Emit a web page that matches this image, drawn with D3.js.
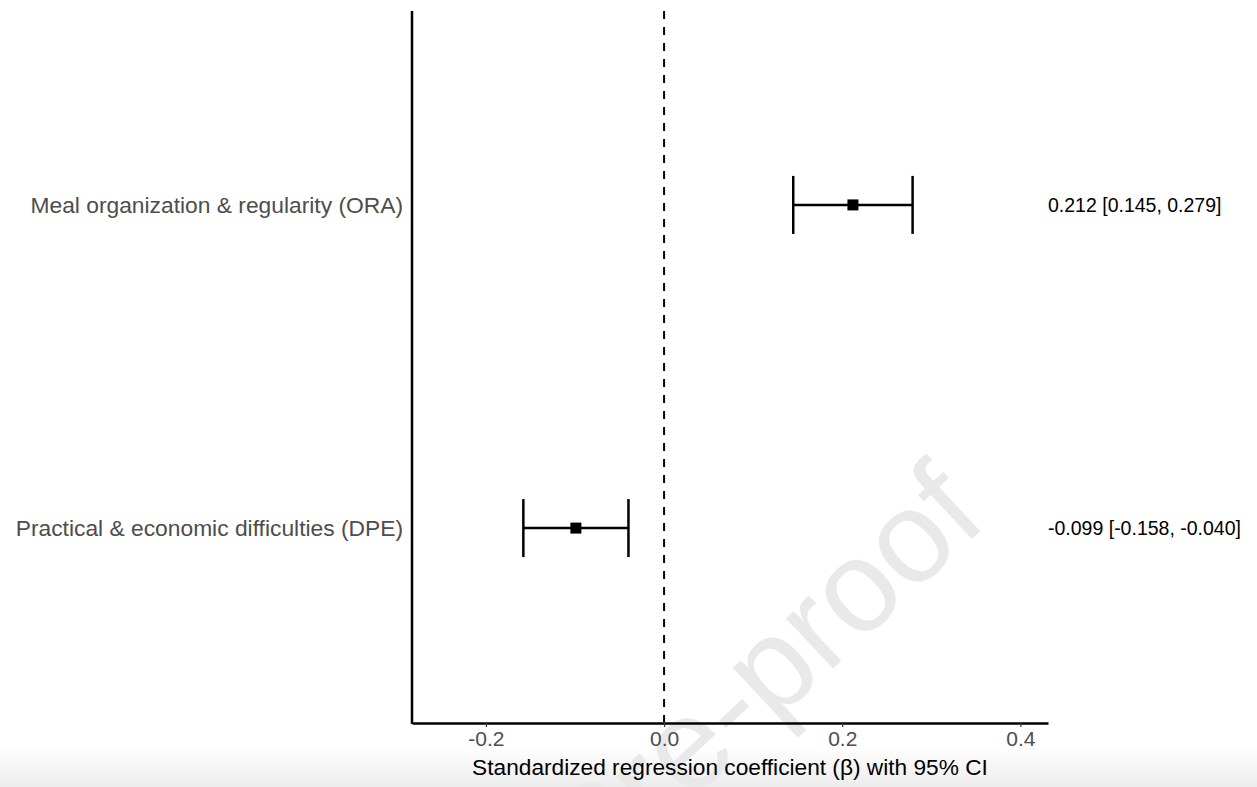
<!DOCTYPE html>
<html>
<head>
<meta charset="utf-8">
<script src="https://cdn.jsdelivr.net/npm/d3@7"></script>
<style>
  body { margin: 0; background: #fff; }
  svg { display: block; font-family: "Liberation Sans", Arial, sans-serif; }
</style>
</head>
<body>
<div id="root"></div>
<script>
// Chart size
const width = 1257;
const height = 787;

// Data
const labels = ["Meal organization & regularity (ORA)", "Practical & economic difficulties (DPE)"];
const estimates = [0.212, -0.099];
const lower = [0.145, -0.158];
const upper = [0.279, -0.040];
const ciText = ["0.212 [0.145, 0.279]", "-0.099 [-0.158, -0.040]"];
const xTicks = [-0.2, 0.0, 0.2, 0.4];
const xTickLabels = ["-0.2", "0.0", "0.2", "0.4"];

const rows = labels.map((d, i) => ({
  label: d,
  est: estimates[i],
  lo: lower[i],
  hi: upper[i],
  text: ciText[i]
}));

const svg = d3
  .select("#root")
  .append("svg")
  .attr("width", width)
  .attr("height", height);

// soft grey fade at the bottom
const grad = svg.append("defs")
  .append("linearGradient")
  .attr("id", "fade")
  .attr("x1", 0).attr("y1", 0)
  .attr("x2", 0).attr("y2", 1);
grad.append("stop").attr("offset", "0%").attr("stop-color", "#ffffff");
grad.append("stop").attr("offset", "100%").attr("stop-color", "#ececec");

svg.append("rect")
  .attr("x", 0)
  .attr("y", 748)
  .attr("width", width)
  .attr("height", height - 748)
  .attr("fill", "url(#fade)");

// watermark
svg.append("text")
  .attr("transform", "translate(990,522) rotate(-43)")
  .attr("text-anchor", "end")
  .attr("font-size", 130)
  .attr("fill", "#e9e9e9")
  .text("Journal Pre-proof");

// Scales
const xScale = d3.scaleLinear()
  .domain([-0.283, 0.431])
  .range([412, 1048]);

const yScale = d3.scalePoint()
  .domain(labels)
  .range([11, 722])
  .padding(0.6);

// Reference line at zero
svg.append("line")
  .attr("x1", xScale(0))
  .attr("x2", xScale(0))
  .attr("y1", 11)
  .attr("y2", 722)
  .attr("stroke", "#000")
  .attr("stroke-width", 2)
  .attr("stroke-dasharray", "8,8");

// Axes
const xAxis = d3.axisBottom(xScale)
  .tickValues(xTicks)
  .tickFormat((d, i) => xTickLabels[i])
  .tickSize(4)
  .tickSizeOuter(0);

const gx = svg.append("g")
  .attr("class", "x-axis")
  .attr("transform", "translate(0,723)")
  .call(xAxis);
gx.select(".domain").attr("stroke", "#000").attr("stroke-width", 2.5);
gx.selectAll(".tick line").attr("stroke", "#333").attr("stroke-width", 1.2);
gx.selectAll(".tick text")
  .attr("y", 8)
  .attr("font-size", 21)
  .attr("fill", "#4d4d4d")
  .attr("font-family", "Liberation Sans, Arial, sans-serif");

const yAxis = d3.axisLeft(yScale)
  .tickSize(0)
  .tickPadding(9);

const gy = svg.append("g")
  .attr("class", "y-axis")
  .attr("transform", "translate(412,0)")
  .call(yAxis);
gy.select(".domain")
  .attr("d", "M0,11V724")
  .attr("stroke", "#000")
  .attr("stroke-width", 2.5);
gy.selectAll(".tick text")
  .attr("font-size", 22.8)
  .attr("fill", "#4d4d4d")
  .attr("font-family", "Liberation Sans, Arial, sans-serif");

// Axis title
svg.append("text")
  .attr("x", (xScale.range()[0] + xScale.range()[1]) / 2)
  .attr("y", 775)
  .attr("text-anchor", "middle")
  .attr("font-size", 22.7)
  .attr("fill", "#000")
  .text("Standardized regression coefficient (\u03b2) with 95% CI");

// Error bars
const bars = svg.append("g")
  .selectAll("g")
  .data(rows)
  .enter()
  .append("g");

bars.append("line")
  .attr("x1", d => xScale(d.lo))
  .attr("x2", d => xScale(d.hi))
  .attr("y1", d => yScale(d.label))
  .attr("y2", d => yScale(d.label))
  .attr("stroke", "#000")
  .attr("stroke-width", 2.5);

bars.selectAll(".cap")
  .data(d => [d.lo, d.hi].map(v => ({ v: v, y: yScale(d.label) })))
  .enter()
  .append("line")
  .attr("class", "cap")
  .attr("x1", d => xScale(d.v))
  .attr("x2", d => xScale(d.v))
  .attr("y1", d => d.y - 29)
  .attr("y2", d => d.y + 29)
  .attr("stroke", "#000")
  .attr("stroke-width", 2.5);

bars.append("rect")
  .attr("x", d => xScale(d.est) - 5.5)
  .attr("y", d => yScale(d.label) - 5.5)
  .attr("width", 11)
  .attr("height", 11)
  .attr("fill", "#000");

// Estimate labels on the right
bars.append("text")
  .attr("x", 1048)
  .attr("y", d => yScale(d.label))
  .attr("dy", "0.35em")
  .attr("font-size", 19.5)
  .attr("fill", "#000")
  .text(d => d.text);
</script>
</body>
</html>
